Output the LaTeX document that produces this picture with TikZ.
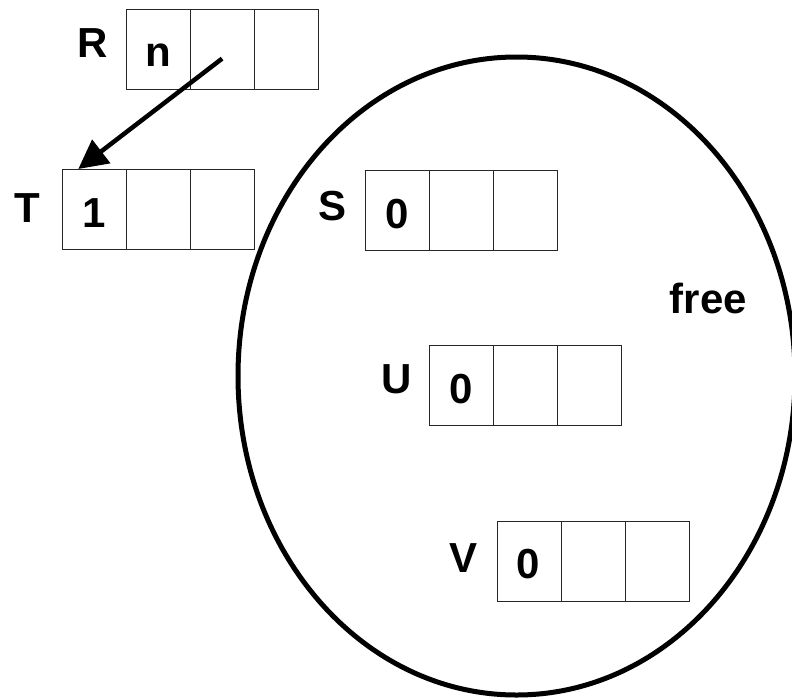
\documentclass[tikz,border=0pt]{standalone}
\usepackage{fontspec}
\setmainfont{Liberation Sans}
\usetikzlibrary{arrows.meta,calc,shapes.geometric}

\begin{document}
\begin{tikzpicture}[x=1pt,y=-1pt,
  cell/.style={draw=black!85, line width=1.2pt, rectangle, minimum width=64pt,
    minimum height=80pt, inner sep=0pt, anchor=north west},
  lbl/.style={inner sep=0pt, anchor=base,
    font=\fontsize{42}{48}\selectfont\bfseries},
  pool/.style={draw, line width=5pt, ellipse, inner sep=0pt,
    minimum width=557pt, minimum height=638pt},
  pointer/.style={line width=4.5pt, -{Triangle[length=29pt,width=29pt]}}]

\useasboundingbox (0,0) rectangle (792,699);
\clip (0,0) rectangle (792,699);

% free pool
\node[pool] (freepool) at (516.5,376) {};

% records: three cells each, placed by their top-left corner
\newcommand{\record}[3]{%
  \node[cell] (#1a) at (#2,#3) {};
  \node[cell] (#1b) at (#2+64,#3) {};
  \node[cell] (#1c) at (#2+128,#3) {};}
\record{r}{125.5}{9}
\record{t}{62}{169}
\record{s}{365}{170}
\record{u}{429}{345}
\record{v}{497}{521}

% names and field contents
\node[lbl] (lR) at (92.5,57) {R};
\node[lbl] (fn) at (158,66) {n};
\node[lbl] (lT) at (27,222) {T};
\node[lbl] (f1) at (94,227) {1};
\node[lbl] (lS) at (332.5,220) {S};
\node[lbl] (fS) at (397.5,228) {0};
\node[lbl] (lU) at (396.5,393) {U};
\node[lbl] (fU) at (461.5,403) {0};
\node[lbl] (lV) at (463.5,572) {V};
\node[lbl] (fV) at (528,578) {0};
\node[lbl] (lfree) at (708.5,313) {free};

% pointer from R's second field to T
\coordinate (rptr) at ($(rb.center)+(0,9)$);
\coordinate (ttop) at ($(ta.north west)!0.25!(ta.north east)$);
\draw[pointer] (rptr) -- (ttop);
\end{tikzpicture}
\end{document}
